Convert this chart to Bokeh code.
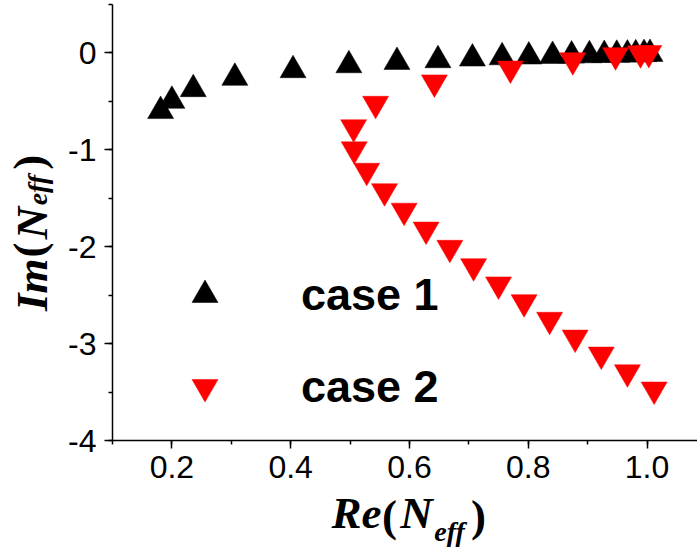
from bokeh.plotting import figure
from bokeh.models import (ColumnDataSource, Range1d, SingleIntervalTicker, NumeralTickFormatter,
                          FixedTicker, LinearAxis, Legend, LegendItem)
from bokeh.embed import file_html
from bokeh.resources import INLINE

# ---- data ----
case1_re = [0.181, 0.200, 0.236, 0.306, 0.404, 0.498, 0.579, 0.648, 0.706, 0.756,
            0.801, 0.841, 0.873, 0.903, 0.928, 0.949, 0.967, 0.981, 0.995, 1.005]
case1_im = [-0.600, -0.494, -0.374, -0.257, -0.178, -0.127, -0.093, -0.075, -0.058, -0.045,
            -0.037, -0.031, -0.027, -0.024, -0.021, -0.019, -0.017, -0.014, -0.012, -0.010]

case2_re = [1.012, 0.967, 0.923, 0.879, 0.836, 0.793, 0.750, 0.708, 0.668, 0.628, 0.591,
            0.558, 0.528, 0.507, 0.506, 0.543, 0.642, 0.770, 0.875, 0.947, 0.989, 1.003]
case2_im = [-3.474, -3.296, -3.113, -2.938, -2.754, -2.572, -2.389, -2.201, -2.011, -1.823, -1.628,
            -1.427, -1.216, -0.995, -0.767, -0.525, -0.304, -0.161, -0.075, -0.024, -0.003, 0.000]

series_labels = ["case 1", "case 2"]

# ---- layout constants ----
W, H = 697, 549
LEFT, TOP, BOTTOM = 112, 4, 108
X0, X1 = 0.1, 1.085
Y0, Y1 = -4.0, 0.5

p = figure(width=W, height=H, output_backend="svg", toolbar_location=None,
           x_range=Range1d(X0, X1), y_range=Range1d(Y0, Y1),
           min_border_left=LEFT, min_border_right=0, min_border_top=TOP, min_border_bottom=BOTTOM,
           x_axis_location="below", y_axis_location="left")
p.outline_line_color = None
p.xgrid.visible = False
p.ygrid.visible = False
p.background_fill_color = "white"
p.border_fill_color = "white"


def dx(px):  # canvas pixel -> data x
    return X0 + (px - LEFT) / (W - LEFT) * (X1 - X0)


def dy(py):  # canvas pixel -> data y
    return Y1 - (py - TOP) / (H - TOP - BOTTOM) * (Y1 - Y0)


for ax in (p.xaxis[0], p.yaxis[0]):
    ax.axis_line_width = 1.5
    ax.axis_line_color = "black"
    ax.major_tick_line_width = 1.5
    ax.minor_tick_line_width = 1.5
    ax.major_tick_in = 0
    ax.major_tick_out = 8
    ax.minor_tick_in = 0
    ax.minor_tick_out = 4
    ax.major_label_text_font = "Liberation Sans"
    ax.major_label_text_font_size = "32px"
    ax.major_label_text_color = "black"

p.xaxis[0].ticker = SingleIntervalTicker(interval=0.2, num_minor_ticks=2)
p.yaxis[0].ticker = SingleIntervalTicker(interval=1, num_minor_ticks=2)
p.xaxis[0].formatter = NumeralTickFormatter(format="0.0")
p.yaxis[0].formatter = NumeralTickFormatter(format="0")
p.xaxis[0].major_label_standoff = 7
p.yaxis[0].major_label_standoff = 8

src1 = ColumnDataSource(dict(x=case1_re, y=case1_im))
src2 = ColumnDataSource(dict(x=case2_re, y=case2_im))
r1 = p.scatter("x", "y", source=src1, marker="triangle", size=26,
               fill_color="black", line_color="black", line_width=0.5)
r2 = p.scatter("x", "y", source=src2, marker="inverted_triangle", size=26,
               fill_color="#ff0000", line_color="#ff0000", line_width=0.5)

legend = Legend(items=[LegendItem(label=series_labels[0], renderers=[r1]),
                       LegendItem(label=series_labels[1], renderers=[r2])],
                location=(60, 21), glyph_width=65, glyph_height=65, spacing=27,
                padding=0, margin=0, label_standoff=64,
                label_text_font="Liberation Sans", label_text_font_style="bold",
                label_text_font_size="45px", label_text_color="black",
                label_text_baseline="hanging",
                border_line_color=None, background_fill_alpha=0)
p.add_layout(legend)


# ---- composed axis titles Re(N_eff) / Im(N_eff), built from label-only axes ----
def bare_axis(ticks, texts, style, size, standoff, orientation="horizontal"):
    return LinearAxis(ticker=FixedTicker(ticks=ticks),
                      major_label_overrides={t: s for t, s in zip(ticks, texts)},
                      major_label_text_font="Liberation Serif",
                      major_label_text_font_style=style,
                      major_label_text_font_size=size,
                      major_label_text_color="black",
                      major_label_standoff=standoff,
                      major_label_orientation=orientation,
                      axis_line_color=None, major_tick_line_color=None,
                      minor_tick_line_color=None,
                      major_tick_out=0, major_tick_in=0, minor_tick_out=0, minor_tick_in=0)


# x title: centres of the pieces (canvas px)
re_c, lp_c, n_c, eff_c, rp_c = 356, 389, 416, 449, 478
p.add_layout(bare_axis([dx(re_c), dx(n_c)], ["Re", "N"], "bold italic", "45px", 7), "below")
p.add_layout(bare_axis([dx(lp_c), dx(rp_c)], ["(", ")"], "bold", "45px", -50), "below")
p.add_layout(bare_axis([dx(eff_c)], ["eff"], "bold italic", "28px", -28), "below")

# y title: centres of the pieces (canvas px, bottom to top)
im_c, lp_y, n_y, eff_y, rp_y = 285, 250, 223, 190, 162
p.add_layout(bare_axis([dy(im_c), dy(n_y)], ["Im", "N"], "bold italic", "45px", 8, "vertical"), "left")
p.add_layout(bare_axis([dy(lp_y), dy(rp_y)], ["(", ")"], "bold", "45px", -50, "vertical"), "left")
p.add_layout(bare_axis([dy(eff_y)], ["eff"], "bold italic", "28px", -52, "vertical"), "left")

open("out.html", "w").write(file_html(p, INLINE))
